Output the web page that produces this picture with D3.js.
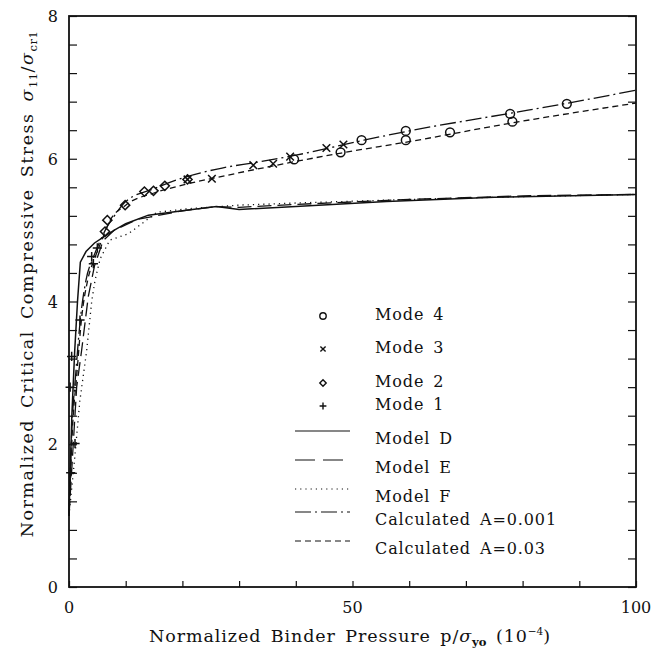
<!DOCTYPE html>
<html>
<head>
<meta charset="utf-8">
<script src="https://cdn.jsdelivr.net/npm/d3@7"></script>
<style>
  body { margin: 0; background: #fff; }
  text { font-family: "DejaVu Serif", serif; fill: #111; }
</style>
</head>
<body>
<div id="chart"></div>
<script>
var modelD = [[0, 1.0], [0.5, 2.4], [1.0, 3.3], [1.5, 4.0], [2.0, 4.55], [3, 4.7], [4.5, 4.82], [6, 4.9], [8, 5.0], [10, 5.09], [14, 5.21], [20, 5.27], [26, 5.33], [30, 5.29], [40, 5.33], [56, 5.40], [75, 5.46], [100, 5.5]];
var modelE = [[0, 1.0], [0.6, 1.8], [1.35, 2.8], [2.2, 3.3], [3.4, 4.07], [4.5, 4.5], [6, 4.85], [8, 5.0], [12, 5.15], [20, 5.27], [26, 5.33], [30, 5.32], [40, 5.36], [60, 5.43], [80, 5.48], [100, 5.5]];
var modelF = [[0, 1.0], [1.0, 1.8], [1.9, 2.6], [3.1, 3.3], [4.0, 4.0], [4.6, 4.3], [5.5, 4.6], [7.2, 4.86], [10.5, 4.95], [15.5, 5.25], [21, 5.3], [30, 5.35], [40, 5.38], [60, 5.43], [80, 5.47], [100, 5.5]];
var calcA001 = [[0, 1.0], [0.5, 2.2], [1.2, 3.0], [2, 3.75], [3, 4.3], [4.3, 4.62], [5.5, 4.85], [6.4, 5.0], [8, 5.2], [10, 5.4], [15, 5.58], [20, 5.73], [27, 5.87], [33, 5.95], [40, 6.05], [52, 6.26], [60, 6.39], [78, 6.64], [88, 6.78], [100, 6.96]];
var calcA03 = [[0, 1.0], [0.6, 2.2], [1.4, 3.0], [2.2, 3.75], [3.3, 4.3], [4.6, 4.62], [6, 4.9], [7, 5.1], [10, 5.35], [15, 5.52], [20, 5.63], [28, 5.77], [36, 5.9], [48, 6.08], [60, 6.24], [78, 6.5], [100, 6.78]];

var mode4 = [[39.7, 5.99], [47.9, 6.09], [51.6, 6.26], [59.4, 6.39], [59.4, 6.26], [67.2, 6.37], [77.8, 6.63], [78.2, 6.52], [87.8, 6.77]];
var mode3 = [[20.9, 5.71], [25.2, 5.72], [32.5, 5.91], [36, 5.93], [39, 6.03], [45.4, 6.15], [48.4, 6.2]];
var mode2 = [[6.35, 4.98], [6.76, 5.14], [9.9, 5.35], [13.3, 5.54], [14.9, 5.55], [16.9, 5.62], [20.9, 5.71]];
var mode1 = [[0.3, 1.6], [1.06, 2.01], [0.2, 2.8], [0.47, 3.23], [1.94, 3.74], [4.0, 4.63], [4.3, 4.53], [5.0, 4.75]];

var xTicks = [0, 50, 100];
var yTicks = [0, 2, 4, 6, 8];

var width = 653, height = 652;
var margin = { left: 69, right: 17, top: 16, bottom: 65 };

var x = d3.scaleLinear().domain([0, 100]).range([margin.left, width - margin.right]);
var y = d3.scaleLinear().domain([0, 8]).range([height - margin.bottom, margin.top]);

var svg = d3.select('#chart')
  .append('svg')
  .attr('width', width)
  .attr('height', height);

// ticks (inward)
svg.append('g')
  .attr('transform', 'translate(0,' + y(0) + ')')
  .call(d3.axisBottom(x).tickValues(d3.range(0, 101, 10)).tickSize(-6).tickFormat(''))
  .call(function (g) { g.select('.domain').remove(); });

svg.append('g')
  .attr('transform', 'translate(' + x(0) + ',0)')
  .call(d3.axisLeft(y).tickValues(d3.range(0, 8.01, 0.4)).tickSize(-8).tickFormat(''))
  .call(function (g) { g.select('.domain').remove(); });

svg.append('g')
  .attr('transform', 'translate(' + x(100) + ',0)')
  .call(d3.axisRight(y).tickValues(d3.range(0, 8.01, 0.4)).tickSize(-8).tickFormat(''))
  .call(function (g) { g.select('.domain').remove(); });

svg.selectAll('.tick line').attr('stroke', '#111').attr('stroke-width', 1.2);

// frame
svg.append('rect')
  .attr('x', x(0)).attr('y', y(8))
  .attr('width', x(100) - x(0)).attr('height', y(0) - y(8))
  .attr('fill', 'none').attr('stroke', '#111').attr('stroke-width', 1.8);

// tick labels
svg.selectAll('.xlab').data(xTicks).enter().append('text')
  .attr('x', function (d) { return x(d); })
  .attr('y', y(0) + 26)
  .attr('text-anchor', 'middle')
  .attr('font-size', 16)
  .text(function (d) { return d; });

svg.selectAll('.ylab').data(yTicks).enter().append('text')
  .attr('x', x(0) - 11)
  .attr('y', function (d) { return y(d) + 6; })
  .attr('text-anchor', 'end')
  .attr('font-size', 16)
  .text(function (d) { return d; });

// axis titles
var xt = svg.append('text')
  .attr('x', 350)
  .attr('y', 642)
  .attr('text-anchor', 'middle')
  .attr('font-size', 17.5)
  .attr('letter-spacing', 0.9)
  .attr('word-spacing', 3);
xt.append('tspan').text('Normalized Binder Pressure p/');
xt.append('tspan').attr('font-style', 'italic').text('σ');
xt.append('tspan').attr('font-size', 11.5).attr('dy', 4).attr('font-weight', 'bold').attr('letter-spacing', 0).text('yo');
xt.append('tspan').attr('dy', -4).text(' (10');
xt.append('tspan').attr('font-size', 10.5).attr('dy', -7).attr('letter-spacing', 0).text('−4');
xt.append('tspan').attr('dy', 7).text(')');

var yt = svg.append('text')
  .attr('transform', 'translate(33,' + 284 + ') rotate(-90)')
  .attr('text-anchor', 'middle')
  .attr('font-size', 17.5)
  .attr('letter-spacing', 1.5)
  .attr('word-spacing', 4);
yt.append('tspan').text('Normalized Critical Compressive Stress ');
yt.append('tspan').attr('font-style', 'italic').text('σ');
yt.append('tspan').attr('font-size', 11.5).attr('dy', 4).attr('letter-spacing', 0.5).text('11');
yt.append('tspan').attr('dy', -4).text('/');
yt.append('tspan').attr('font-style', 'italic').text('σ');
yt.append('tspan').attr('font-size', 11.5).attr('dy', 4).attr('letter-spacing', 0.5).text('cr1');

// curves
var line = d3.line()
  .x(function (d) { return x(d[0]); })
  .y(function (d) { return y(d[1]); });
var smooth = d3.line()
  .x(function (d) { return x(d[0]); })
  .y(function (d) { return y(d[1]); })
  .curve(d3.curveMonotoneX);

var styles = [
  { data: modelD, gen: line, dash: null, w: 1.5, label: 'Model D' },
  { data: modelE, gen: line, dash: '14,6', w: 1.3, label: 'Model E' },
  { data: modelF, gen: line, dash: '1.2,4', w: 1.3, label: 'Model F' },
  { data: calcA001, gen: smooth, dash: '16,4,2,4', w: 1.3, label: 'Calculated A=0.001' },
  { data: calcA03, gen: smooth, dash: '6,4', w: 1.3, label: 'Calculated A=0.03' }
];

styles.forEach(function (s) {
  svg.append('path')
    .attr('d', s.gen(s.data))
    .attr('fill', 'none')
    .attr('stroke', '#111')
    .attr('stroke-width', s.w)
    .attr('stroke-dasharray', s.dash);
});

// marker shapes
function markerPath(kind, r) {
  if (kind === 'circle') return 'M' + r + ',0A' + r + ',' + r + ' 0 1,1 ' + (-r) + ',0A' + r + ',' + r + ' 0 1,1 ' + r + ',0Z';
  if (kind === 'x') return 'M' + (-r) + ',' + (-r) + 'L' + r + ',' + r + 'M' + (-r) + ',' + r + 'L' + r + ',' + (-r);
  if (kind === 'diamond') return 'M0,' + (-r) + 'L' + r + ',0L0,' + r + 'L' + (-r) + ',0Z';
  return 'M' + (-r) + ',0L' + r + ',0M0,' + (-r) + 'L0,' + r;
}

var modes = [
  { data: mode4, kind: 'circle', r: 4.4, lr: 3.2, label: 'Mode 4', ly: 320 },
  { data: mode3, kind: 'x', r: 3.8, lr: 2.6, label: 'Mode 3', ly: 353 },
  { data: mode2, kind: 'diamond', r: 4.6, lr: 3.2, label: 'Mode 2', ly: 387 },
  { data: mode1, kind: 'plus', r: 4.6, lr: 3.4, label: 'Mode 1', ly: 410 }
];

modes.forEach(function (m) {
  svg.append('g').selectAll('path').data(m.data).enter().append('path')
    .attr('transform', function (d) { return 'translate(' + x(d[0]) + ',' + y(d[1]) + ')'; })
    .attr('d', markerPath(m.kind, m.r))
    .attr('fill', 'none')
    .attr('stroke', '#111')
    .attr('stroke-width', 1.5);
});

// legend
var legX = 323, textX = 375;
modes.forEach(function (m) {
  svg.append('path')
    .attr('transform', 'translate(' + legX + ',' + (m.ly - 4) + ')')
    .attr('d', markerPath(m.kind, m.lr))
    .attr('fill', 'none')
    .attr('stroke', '#111')
    .attr('stroke-width', 1.4);
  svg.append('text').attr('x', textX).attr('y', m.ly).attr('font-size', 16)
    .attr('letter-spacing', 0.9).attr('word-spacing', 3).text(m.label);
});

var lineLegY = [444, 473, 502, 525, 554];
styles.forEach(function (s, i) {
  svg.append('line')
    .attr('x1', 295).attr('x2', 350)
    .attr('y1', lineLegY[i] - 13).attr('y2', lineLegY[i] - 13)
    .attr('stroke', '#111')
    .attr('stroke-width', i === 2 ? 1 : 1.2)
    .attr('stroke-dasharray', i === 1 ? '20,8' : s.dash);
  svg.append('text').attr('x', textX).attr('y', lineLegY[i]).attr('font-size', 16)
    .attr('letter-spacing', 0.9).attr('word-spacing', 3).text(s.label);
});
</script>
</body>
</html>
